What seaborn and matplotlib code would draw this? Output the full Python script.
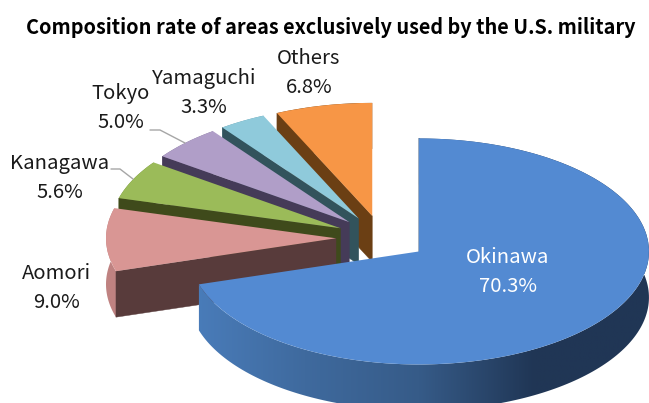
import numpy as np
import matplotlib
matplotlib.use("Agg")
import matplotlib.pyplot as plt
from matplotlib.colors import LinearSegmentedColormap
from matplotlib.patches import Polygon
from matplotlib.lines import Line2D
import seaborn as sns

# ---- data ----
categories = ["Okinawa", "Aomori", "Kanagawa", "Tokyo", "Yamaguchi", "Others"]
shares = [70.3, 9.0, 5.6, 5.0, 3.3, 6.8]
title = "Composition rate of areas exclusively used by the U.S. military"

# ---- style ----
top_colors = ["#538ad2", "#d99694", "#9bbb59", "#b09ec8", "#8fcadb", "#f79646"]
wall_colors = ["#2a4a70", "#583b3b", "#3f4a1b", "#453b58", "#32535c", "#6b3f14"]
arc_colors = ["#2a4a70", "#bf8281", "#6f8a3a", "#7d6f92", "#5e97a6", "#6b3f14"]
side_cmap = LinearSegmentedColormap.from_list(
    "side", ["#4a7dbb", "#3f6a9e", "#365b88", "#203655", "#203655"])

W, H = 649, 403
RX, RY, DEPTH = 230.0, 113.0, 46.0       # pixels
CENTER_PX = (382.0, 238.0)
EXPLODE = 0.2

sns.set_theme(style="white")
plt.rcParams["font.family"] = ["Noto Sans CJK JP", "DejaVu Sans"]
palette = sns.color_palette(top_colors)

fig = plt.figure(figsize=(W / 100, H / 100), dpi=100)
ax = fig.add_axes([0, 0, 1, 1])

xlim = (0, W / RX)
ylim = (0, H / RY)


def P(px, py):
    """Pixel position in the reference -> data position."""
    return px / RX, (H - py) / RY


cx, cy = P(*CENTER_PX)
d = DEPTH / RY
fracs = np.array(shares) / sum(shares)
starts = np.concatenate([[0], np.cumsum(fracs)[:-1]]) * 2 * np.pi
ends = starts + fracs * 2 * np.pi

# back to front
for i in [5, 4, 3, 2, 1, 0]:
    a0, a1 = starts[i], ends[i]
    mid = (a0 + a1) / 2
    vx = cx + EXPLODE * np.sin(mid)
    vy = cy + EXPLODE * np.cos(mid)
    phi = np.linspace(a0, a1, 200)
    ax_, ay_ = vx + np.sin(phi), vy + np.cos(phi)
    side = np.vstack([np.column_stack([ax_, ay_]),
                      np.column_stack([ax_, ay_ - d])[::-1]])
    if i == 0:
        im = ax.imshow(np.linspace(0, 1, 256)[None, :], cmap=side_cmap, aspect="auto",
                       extent=(vx - 1, vx + 1, vy - 1.6, vy + 1), zorder=1)
        clip = Polygon(side, closed=True, transform=ax.transData, facecolor="none", edgecolor="none")
        ax.add_patch(clip)
        im.set_clip_path(clip)
    else:
        ax.add_patch(Polygon(side, closed=True, facecolor=arc_colors[i],
                             edgecolor="none", lw=0, zorder=1))
    # radial wall on the starting edge
    ox, oy = ax_[0], ay_[0]
    wall = [(vx, vy), (ox, oy), (ox, oy - d), (vx, vy - d)]
    ax.add_patch(Polygon(wall, closed=True, facecolor=wall_colors[i],
                         edgecolor=wall_colors[i], lw=0.3, zorder=1))
    wedges, _ = ax.pie([fracs[i]], normalize=False, colors=[palette[i]],
                       startangle=90 - np.degrees(a0), counterclock=False,
                       center=(cx, cy), radius=1.0, explode=[EXPLODE],
                       wedgeprops={"linewidth": 0})
    for w in wedges:
        w.set_zorder(1)

ax.set_aspect("auto")
ax.set_xlim(*xlim)
ax.set_ylim(*ylim)
ax.set_axis_off()

# ---- text ----
ax.text(*P(331, 27), title, fontsize=14.3, fontweight="bold", color="black",
        ha="center", va="center", zorder=5)

label_pos = {
    "Okinawa": (508, 272), "Aomori": (56, 288), "Kanagawa": (60, 178),
    "Tokyo": (121, 108), "Yamaguchi": (204, 93), "Others": (309, 73),
}
for name, share in zip(categories, shares):
    col = "white" if name == "Okinawa" else "#1a1a1a"
    ax.text(*P(*label_pos[name]), f"{name}\n{share:.1f}%", fontsize=14.6, color=col,
            ha="center", va="center", linespacing=1.47, zorder=5)

# ---- leader lines ----
for pts in ([(111, 169), (120, 169), (133, 179)],
            [(150, 130), (160, 130), (185, 143)]):
    xy = np.array([P(*p) for p in pts])
    ax.add_line(Line2D(xy[:, 0], xy[:, 1], color="#a6a6a6", lw=1.0, zorder=4))

fig.savefig("out.png", dpi=100, facecolor="white")
